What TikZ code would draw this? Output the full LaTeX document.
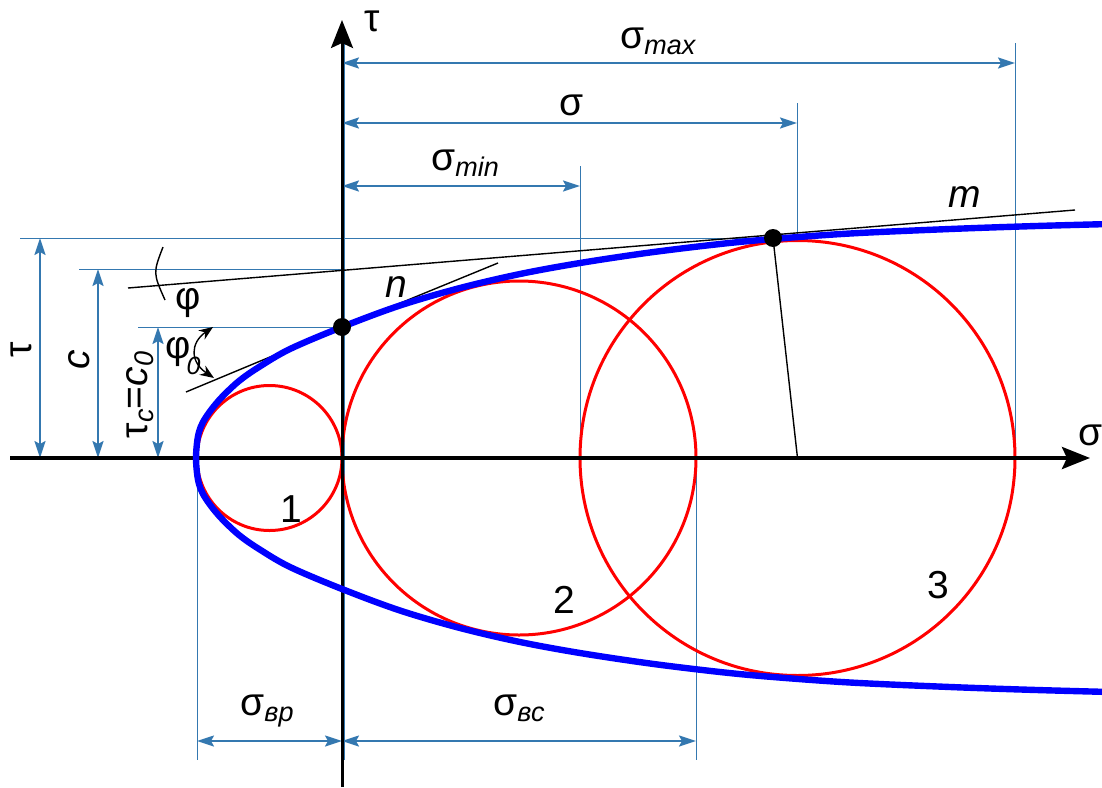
\documentclass[tikz,border=0pt]{standalone}
\usepackage{fontspec}
\setmainfont{Liberation Sans}
\usetikzlibrary{arrows.meta}
\definecolor{dimblue}{RGB}{52,120,176}
\definecolor{curveblue}{RGB}{0,0,255}
\definecolor{circred}{RGB}{255,0,0}
\newcommand{\lowidx}[1]{\raisebox{-0.3ex}{\fontsize{13.5}{14}\selectfont\itshape #1}}
\begin{document}
\begin{tikzpicture}[x=0.5pt,y=-0.5pt,
  lbl/.style={inner sep=0pt, font=\fontsize{19.5}{22}\selectfont},
  dimline/.style={draw=dimblue, line width=1pt, {Stealth[length=8.5pt,width=5.5pt,inset=1.5pt]}-{Stealth[length=8.5pt,width=5.5pt,inset=1.5pt]}},
  extline/.style={draw=dimblue, line width=0.5pt},
  thinblack/.style={draw=black, line width=0.7pt},
  mohr/.style={draw=circred, line width=1.5pt},
  envelope/.style={draw=curveblue, line width=3.2pt},
  axisline/.style={draw=black, -{Stealth[length=14pt,width=11pt,inset=2.5pt]}},
  dotstyle/.style={fill=black}]
\useasboundingbox (0,0) rectangle (1102,787);
% key coordinates
\coordinate (O) at (342,458);
\coordinate (A) at (342,327);
\coordinate (B) at (773,238);
\coordinate (C1) at (269.5,458);
\coordinate (C2) at (519,458);
\coordinate (C3) at (797.5,458);
\coordinate (xs) at (10,458);
\coordinate (xe) at (1090,458);
\coordinate (ys) at (342,787);
\coordinate (ye) at (342,20);
% extension lines
\coordinate (hT) at (20,238);
\coordinate (hC) at (79,269);
\coordinate (hCe) at (342,269);
\coordinate (hTc) at (138,327);
\coordinate (hB0) at (20,457);
\coordinate (hB1) at (560,457);
\coordinate (vmax0) at (1015,43);
\coordinate (vmax1) at (1015,458);
\coordinate (vs0) at (797,103);
\coordinate (vs1) at (797,236);
\coordinate (vmin0) at (580,166);
\coordinate (vmin1) at (580,458);
\coordinate (vbp0) at (197,458);
\coordinate (vbp1) at (197,760);
\coordinate (vbc0) at (696,458);
\coordinate (vbc1) at (696,760);
\coordinate (vax0) at (344,40);
\coordinate (vax1) at (344,760);
\draw[extline] (hT) -- (B);
\draw[extline] (hC) -- (hCe);
\draw[extline] (hTc) -- (A);
\draw[extline] (hB0) -- (hB1);
\draw[extline] (vmax0) -- (vmax1);
\draw[extline] (vs0) -- (vs1);
\draw[extline] (vmin0) -- (vmin1);
\draw[extline] (vbp0) -- (vbp1);
\draw[extline] (vbc0) -- (vbc1);
\draw[extline] (vax0) -- (vax1);
% dimension lines
\coordinate (dmax0) at (342,63);  \coordinate (dmax1) at (1015,63);
\coordinate (ds0) at (342,123);   \coordinate (ds1) at (797,123);
\coordinate (dmin0) at (342,186); \coordinate (dmin1) at (580,186);
\coordinate (dbp0) at (197,741);  \coordinate (dbp1) at (342,741);
\coordinate (dbc0) at (342,741);  \coordinate (dbc1) at (696,741);
\coordinate (dt0) at (40,238);    \coordinate (dt1) at (40,458);
\coordinate (dc0) at (98,269);    \coordinate (dc1) at (98,458);
\coordinate (dtc0) at (158,327);  \coordinate (dtc1) at (158,458);
\draw[dimline] (dmax0) -- (dmax1);
\draw[dimline] (ds0) -- (ds1);
\draw[dimline] (dmin0) -- (dmin1);
\draw[dimline] (dbp0) -- (dbp1);
\draw[dimline] (dbc0) -- (dbc1);
\draw[dimline] (dt0) -- (dt1);
\draw[dimline] (dc0) -- (dc1);
\draw[dimline] (dtc0) -- (dtc1);
% thin black lines
\coordinate (m1) at (128,288);
\coordinate (m2) at (1075,210);
\coordinate (p1) at (186,392);
\coordinate (n1) at (398,304);
\coordinate (n2) at (498,263);
\draw[thinblack] (m1) -- (m2);
\draw[thinblack] (p1) -- (A);
\draw[thinblack] (n1) -- (n2);
\draw[thinblack] (B) -- (C3);
% angle marks
\coordinate (phiA) at (163,247);
\coordinate (phiB) at (165,300);
\draw[thinblack] (phiA) .. controls (153,273) .. (phiB);
\coordinate (phz0) at (213,327);
\coordinate (phz1) at (214,378);
\draw[thinblack, {Stealth[length=7pt,width=5.5pt]}-{Stealth[length=7pt,width=5.5pt]}] (phz0) .. controls (190,343) and (190,362) .. (phz1);
% Mohr circles
\draw[mohr] (C1) circle[radius=72.5];
\draw[mohr] (C2) circle[radius=177];
\draw[mohr] (C3) circle[radius=217.5];
% axes
\draw[axisline, line width=2pt] (xs) -- (xe);
\draw[axisline, line width=1.5pt] (ys) -- (ye);
% envelope
\draw[envelope] plot[smooth, tension=0.55] coordinates {
 (1102,691.8) (1030,689.8) (950,687) (850,682.5) (773,677) (720,672) (650,663.5) (580,653) (520,642) (460,628) (400,610.5) (342,589) (290,567) (259,549) (239,535) (222,519) (211,506) (203,494) (199,484) (197,473) (196,458)
 (197,443) (199,432) (203,422) (211,410) (222,397) (239,381) (259,367) (290,349) (342,327) (400,305.5) (460,288) (520,274) (580,263) (650,252.5) (720,244) (773,239) (850,233.5) (950,229) (1030,226.2) (1102,224.2)};
% dots
\fill[dotstyle] (A) circle[radius=9];
\fill[dotstyle] (B) circle[radius=9];
% labels
\node[lbl, anchor=base west] (Lsmax) at (620,48) {σ\lowidx{max}};
\node[lbl, anchor=base west] (Ls) at (559,115) {σ};
\node[lbl, anchor=base west] (Lsmin) at (431,170) {σ\lowidx{min}};
\node[lbl, anchor=base west] (Lsbp) at (240,715) {σ\lowidx{вр}};
\node[lbl, anchor=base west] (Lsbc) at (493,715) {σ\lowidx{вс}};
\node[lbl, anchor=base west] (Ltaxis) at (364,32) {τ};
\node[lbl, anchor=base west] (Lsaxis) at (1078,445) {σ};
\node[lbl, anchor=base west] (Lm) at (948,207) {\itshape m};
\node[lbl, anchor=base west] (Ln) at (385,297) {\itshape n};
\node[lbl, anchor=base west] (L1) at (280,522) {1};
\node[lbl, anchor=base west] (L2) at (553,613) {2};
\node[lbl, anchor=base west] (L3) at (927,598) {3};
\node[lbl, anchor=base west] (Lphi) at (175,309) {φ};
\node[lbl, anchor=base west] (Lphi0) at (165,358) {φ\kern-2pt\raisebox{-8pt}{\fontsize{12.5}{12}\selectfont\itshape 0}};
\node[lbl, anchor=base, rotate=90] (Ltau) at (32,350) {τ};
\node[lbl, anchor=base, rotate=90] (Lc) at (89,360) {\itshape c};
\node[lbl, anchor=base, rotate=90] (Ltc) at (147,395) {τ\lowidx{c}=\textit{c}\lowidx{0}};
\end{tikzpicture}
\end{document}
